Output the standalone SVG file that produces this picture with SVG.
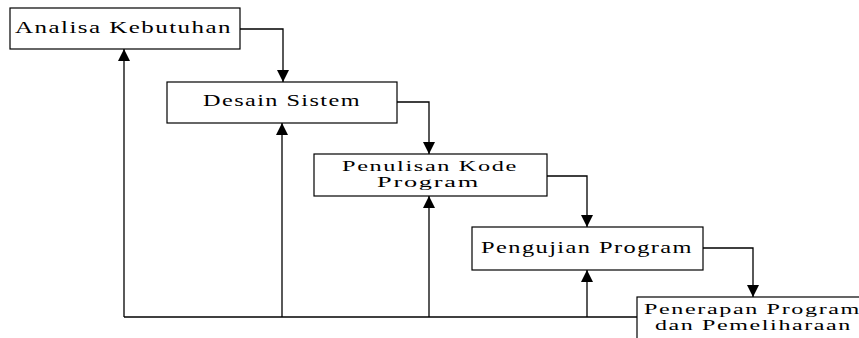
<svg xmlns="http://www.w3.org/2000/svg" width="859" height="338" viewBox="0 0 859 338">
<style>
.box{fill:#fff;stroke:#000;stroke-width:1.2}
.lbl{font-family:"Liberation Serif","Times New Roman",serif;font-size:17px;fill:#000;letter-spacing:1px}
.sm{font-size:15px}
.con{fill:none;stroke:#000;stroke-width:1.3}
</style>
<defs>
<marker id="ah" markerUnits="userSpaceOnUse" markerWidth="12" markerHeight="12" viewBox="0 0 10 10" refX="10" refY="5" orient="auto">
<path d="M0,0 L10,5 L0,10 z" fill="#000"/>
</marker>
</defs>
<rect x="0" y="0" width="859" height="338" fill="#fff"/>
<g id="connectors">
<path class="con" d="M240,29 H283 V82" marker-end="url(#ah)"/>
<path class="con" d="M397,102 H429 V154" marker-end="url(#ah)"/>
<path class="con" d="M547,176 H587 V227" marker-end="url(#ah)"/>
<path class="con" d="M703,248 H753 V297" marker-end="url(#ah)"/>
<path class="con" d="M637,317 H124"/>
<path class="con" d="M124,317 V49" marker-end="url(#ah)"/>
<path class="con" d="M282,317 V123" marker-end="url(#ah)"/>
<path class="con" d="M429,317 V196" marker-end="url(#ah)"/>
<path class="con" d="M587,317 V270" marker-end="url(#ah)"/>
</g>
<g id="analisa">
<rect class="box" x="10" y="8" width="230" height="41"/>
<text class="lbl" x="15" y="33" textLength="217" lengthAdjust="spacingAndGlyphs">Analisa Kebutuhan</text>
</g>
<g id="desain">
<rect class="box" x="167" y="82" width="230" height="41"/>
<text class="lbl" x="203" y="106" textLength="158" lengthAdjust="spacingAndGlyphs">Desain Sistem</text>
</g>
<g id="penulisan">
<rect class="box" x="314" y="154" width="233" height="42"/>
<text class="lbl sm" x="342" y="171" textLength="176" lengthAdjust="spacingAndGlyphs">Penulisan Kode</text>
<text class="lbl sm" x="377" y="187" textLength="103" lengthAdjust="spacingAndGlyphs">Program</text>
</g>
<g id="pengujian">
<rect class="box" x="472" y="227" width="231" height="43"/>
<text class="lbl" x="481" y="253" textLength="212" lengthAdjust="spacingAndGlyphs">Pengujian Program</text>
</g>
<g id="penerapan">
<rect class="box" x="637" y="297" width="235" height="50"/>
<text class="lbl sm" x="644" y="314" textLength="217" lengthAdjust="spacingAndGlyphs">Penerapan Program</text>
<text class="lbl sm" x="655" y="330" textLength="197" lengthAdjust="spacingAndGlyphs">dan Pemeliharaan</text>
</g>
</svg>
